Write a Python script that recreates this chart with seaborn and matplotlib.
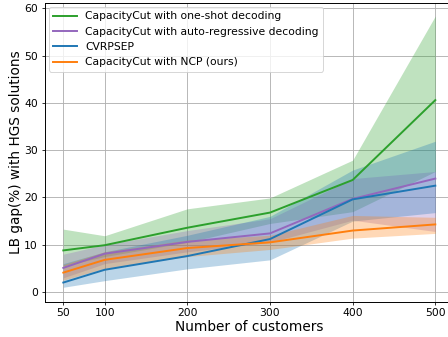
import matplotlib
matplotlib.use("Agg")
import matplotlib.pyplot as plt
import seaborn as sns
import pandas as pd

customers = [50, 100, 200, 300, 400, 500]
xtick_labels = ["50", "100", "200", "300", "400", "500"]

methods = [
    "CapacityCut with one-shot decoding",
    "CapacityCut with auto-regressive decoding",
    "CVRPSEP",
    "CapacityCut with NCP (ours)",
]

# mean LB gap (%) per instance size
one_shot_mean = [8.8, 9.9, 13.6, 16.8, 23.7, 40.6]
auto_reg_mean = [5.1, 8.1, 10.6, 12.4, 19.7, 24.0]
cvrpsep_mean = [2.0, 4.7, 7.6, 11.2, 19.6, 22.5]
ncp_mean = [4.1, 6.8, 9.3, 10.5, 13.0, 14.3]

# spread of the gap (lower / upper)
one_shot_lo = [5.5, 7.5, 10.5, 14.5, 17.0, 25.5]
one_shot_hi = [13.3, 11.9, 17.6, 19.9, 27.9, 58.4]
auto_reg_lo = [3.0, 6.0, 8.5, 10.5, 15.2, 12.8]
auto_reg_hi = [8.0, 10.0, 13.0, 15.5, 24.0, 25.5]
cvrpsep_lo = [1.0, 2.4, 4.9, 6.8, 15.0, 16.8]
cvrpsep_hi = [6.0, 8.5, 12.0, 16.0, 25.8, 31.9]
ncp_lo = [2.5, 5.0, 7.5, 9.0, 11.4, 12.4]
ncp_hi = [5.8, 8.5, 11.0, 12.0, 16.2, 15.8]

means = [one_shot_mean, auto_reg_mean, cvrpsep_mean, ncp_mean]
lows = [one_shot_lo, auto_reg_lo, cvrpsep_lo, ncp_lo]
highs = [one_shot_hi, auto_reg_hi, cvrpsep_hi, ncp_hi]
colors = ["#2ca02c", "#9467bd", "#1f77b4", "#ff7f0e"]

df = pd.DataFrame({
    "customers": customers * len(methods),
    "gap": [v for m in means for v in m],
    "method": [name for name in methods for _ in customers],
})

fig = plt.figure(figsize=(448 / 70, 337 / 70), dpi=70)
ax = fig.add_axes([0.0998, 0.1048, 0.9134, 0.887])

sns.lineplot(data=df, x="customers", y="gap", hue="method", hue_order=methods,
             palette=colors, linewidth=2.0, ax=ax, zorder=3)

for lo, hi, c in zip(lows, highs, colors):
    ax.fill_between(customers, lo, hi, color=c, alpha=0.3, linewidth=0, zorder=2)

ax.set_xticks(customers)
ax.set_xticklabels(xtick_labels)
ax.set_yticks([0, 10, 20, 30, 40, 50, 60])
ax.set_xlim(27.5, 522.5)
ax.set_ylim(-2.05, 61.2)
ax.tick_params(labelsize=11)
ax.grid(True, color="#b0b0b0", linewidth=0.9, zorder=0)
ax.set_axisbelow(True)
for side in ax.spines.values():
    side.set_linewidth(1.0)
ax.set_xlabel("Number of customers", fontsize=14, labelpad=2)
ax.set_ylabel("LB gap(%) with HGS solutions", fontsize=14, labelpad=1.5)

leg = ax.legend(loc="upper left", fontsize=11, title=None,
                borderaxespad=0.4, handlelength=2.2)
for line in leg.get_lines():
    line.set_linewidth(2.0)

fig.savefig("out.png", dpi=70)
